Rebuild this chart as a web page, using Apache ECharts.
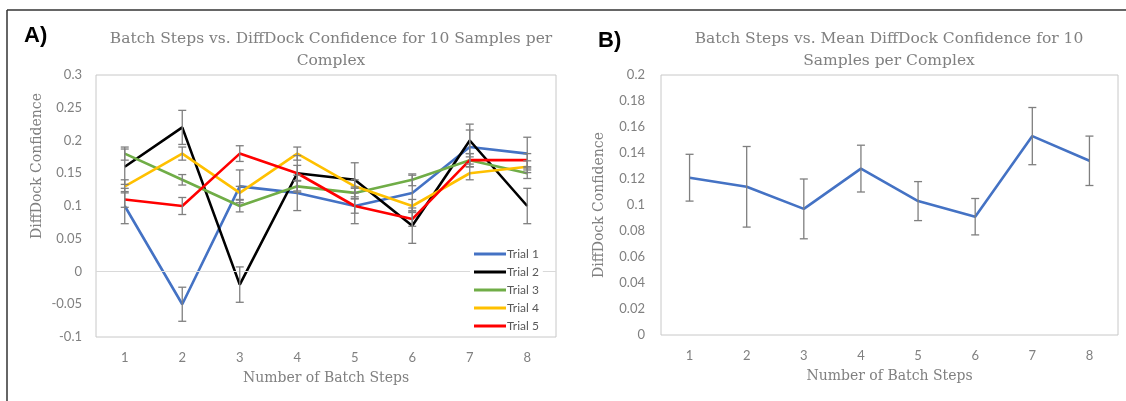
<!DOCTYPE html>
<html>
<head>
<meta charset="utf-8">
<script src="https://cdn.jsdelivr.net/npm/echarts@6/dist/echarts.min.js"></script>
<style>
  html, body { margin: 0; padding: 0; background: #fff; }
  #chart-box { width: 1126px; height: 401px; }
</style>
</head>
<body>
<div id="chart-box"></div>
<script>
const steps = ['1', '2', '3', '4', '5', '6', '7', '8'];
const trialNames = ['Trial 1', 'Trial 2', 'Trial 3', 'Trial 4', 'Trial 5'];
const trialColors = ['#4472c4', '#000000', '#70ad47', '#ffc000', '#ff0000'];

// confidence per trial (panel A)
const trial1 = [0.10, -0.05, 0.13, 0.12, 0.10, 0.12, 0.19, 0.18];
const trial2 = [0.16, 0.22, -0.02, 0.15, 0.14, 0.07, 0.20, 0.10];
const trial3 = [0.18, 0.14, 0.10, 0.13, 0.12, 0.14, 0.17, 0.15];
const trial4 = [0.13, 0.18, 0.12, 0.18, 0.13, 0.10, 0.15, 0.16];
const trial5 = [0.11, 0.10, 0.18, 0.15, 0.10, 0.08, 0.17, 0.17];
// error bar half-widths per trial
const trial1Err = [0.027, 0.026, 0.025, 0.027, 0.027, 0.027, 0.026, 0.025];
const trial2Err = [0.027, 0.026, 0.027, 0.027, 0.026, 0.027, 0.025, 0.027];
const trial3Err = [0.010, 0.008, 0.009, 0.009, 0.009, 0.009, 0.010, 0.008];
const trial4Err = [0.010, 0.010, 0.010, 0.010, 0.010, 0.010, 0.010, 0.009];
const trial5Err = [0.012, 0.013, 0.012, 0.012, 0.011, 0.011, 0.010, 0.010];

// mean confidence (panel B)
const meanConf = [0.121, 0.114, 0.097, 0.128, 0.103, 0.091, 0.153, 0.134];
const meanErr = [0.018, 0.031, 0.023, 0.018, 0.015, 0.014, 0.022, 0.019];

const trials = [trial1, trial2, trial3, trial4, trial5];
const trialErrs = [trial1Err, trial2Err, trial3Err, trial4Err, trial5Err];

const serif = 'DejaVu Serif';
const sans = 'Lato';
const grayText = '#808080';

function errorSeries(values, errs, gridIdx) {
    return {
        type: 'custom',
        xAxisIndex: gridIdx,
        yAxisIndex: gridIdx,
        silent: true,
        z: 5,
        data: values.map((v, i) => [i, v - errs[i], v + errs[i]]),
        renderItem: function (params, api) {
            const lo = api.coord([api.value(0), api.value(1)]);
            const hi = api.coord([api.value(0), api.value(2)]);
            const half = 4;
            const style = {stroke: '#7f7f7f', lineWidth: 1.3};
            return {
                type: 'group',
                children: [
                    {type: 'line', shape: {x1: lo[0], y1: lo[1], x2: hi[0], y2: hi[1]}, style: style},
                    {type: 'line', shape: {x1: lo[0] - half, y1: lo[1], x2: lo[0] + half, y2: lo[1]}, style: style},
                    {type: 'line', shape: {x1: hi[0] - half, y1: hi[1], x2: hi[0] + half, y2: hi[1]}, style: style}
                ]
            };
        }
    };
}

const axisLabelStyle = {color: grayText, fontFamily: sans, fontSize: 13};
const axisNameStyle = {color: grayText, fontFamily: serif, fontSize: 14};

function xAxisFor(gridIdx) {
    return {
        type: 'category',
        gridIndex: gridIdx,
        data: steps,
        boundaryGap: true,
        axisLine: {show: false},
        axisTick: {show: false},
        axisLabel: Object.assign({margin: 14}, axisLabelStyle),
        name: 'Number of Batch Steps',
        nameLocation: 'middle',
        nameGap: 34,
        nameTextStyle: axisNameStyle
    };
}

let series = [];
trials.forEach((vals, k) => {
    series.push({
        name: trialNames[k],
        type: 'line',
        xAxisIndex: 0,
        yAxisIndex: 0,
        data: vals,
        symbol: 'none',
        color: trialColors[k],
        lineStyle: {width: 2.6, color: trialColors[k]},
        z: 3,
        markLine: k === 0 ? {
            silent: true,
            symbol: 'none',
            label: {show: false},
            lineStyle: {color: '#d9d9d9', width: 1, type: 'solid'},
            data: [{yAxis: 0}]
        } : undefined
    });
});
trials.forEach((vals, k) => series.push(errorSeries(vals, trialErrs[k], 0)));

series.push({
    name: 'Mean',
    type: 'line',
    xAxisIndex: 1,
    yAxisIndex: 1,
    data: meanConf,
    symbol: 'none',
    lineStyle: {width: 2.6, color: '#4472c4'},
    z: 3
});
series.push(errorSeries(meanConf, meanErr, 1));

const titleStyle = {color: grayText, fontFamily: serif, fontSize: 15.5, fontWeight: 'normal', lineHeight: 22};

const chart = echarts.init(document.getElementById('chart-box'));
chart.setOption({
    animation: false,
    backgroundColor: '#fff',
    title: [
        {
            text: 'Batch Steps vs. DiffDock Confidence for 10 Samples per\nComplex',
            left: 326, top: 23, textAlign: 'center',
            textStyle: titleStyle
        },
        {
            text: 'Batch Steps vs. Mean DiffDock Confidence for 10\nSamples per Complex',
            left: 884, top: 23, textAlign: 'center',
            textStyle: titleStyle
        }
    ],
    graphic: [
        {type: 'line', shape: {x1: 7, y1: 10, x2: 1126, y2: 10}, style: {stroke: '#333', lineWidth: 1.5}},
        {type: 'line', shape: {x1: 7, y1: 10, x2: 7, y2: 401}, style: {stroke: '#333', lineWidth: 1.5}},
        {type: 'text', left: 24, top: 25, style: {text: 'A)', fill: '#000', font: 'bold 22px "Liberation Sans"'}},
        {type: 'text', left: 598, top: 30, style: {text: 'B)', fill: '#000', font: 'bold 22px "Liberation Sans"'}}
    ],
    legend: {
        data: trialNames,
        orient: 'vertical',
        left: 470,
        top: 246,
        z: 20,
        padding: [2, 4, 2, 4],
        backgroundColor: '#fff',
        itemWidth: 32,
        itemHeight: 3,
        itemGap: 6,
        icon: 'rect',
        textStyle: {color: '#595959', fontFamily: sans, fontSize: 12, padding: [0, 0, 0, -4]}
    },
    grid: [
        {left: 96, top: 75, width: 460, height: 262, show: true, borderColor: '#c8c8c8', borderWidth: 1, backgroundColor: 'transparent'},
        {left: 661, top: 75, width: 457, height: 260, show: true, borderColor: '#c8c8c8', borderWidth: 1, backgroundColor: 'transparent'}
    ],
    xAxis: [xAxisFor(0), xAxisFor(1)],
    yAxis: [
        {
            type: 'value', gridIndex: 0,
            min: -0.1, max: 0.3, interval: 0.05,
            splitLine: {show: false},
            axisLine: {show: false},
            axisTick: {show: false},
            axisLabel: Object.assign({margin: 14}, axisLabelStyle),
            name: 'DiffDock Confidence',
            nameLocation: 'middle',
            nameGap: 52,
            nameTextStyle: Object.assign({padding: [0, 0, 0, 80]}, axisNameStyle)
        },
        {
            type: 'value', gridIndex: 1,
            min: 0, max: 0.2, interval: 0.02,
            splitLine: {show: false},
            axisLine: {show: false},
            axisTick: {show: false},
            axisLabel: Object.assign({margin: 16}, axisLabelStyle),
            name: 'DiffDock Confidence',
            nameLocation: 'middle',
            nameGap: 55,
            nameTextStyle: axisNameStyle
        }
    ],
    series: series
});
</script>
</body>
</html>
